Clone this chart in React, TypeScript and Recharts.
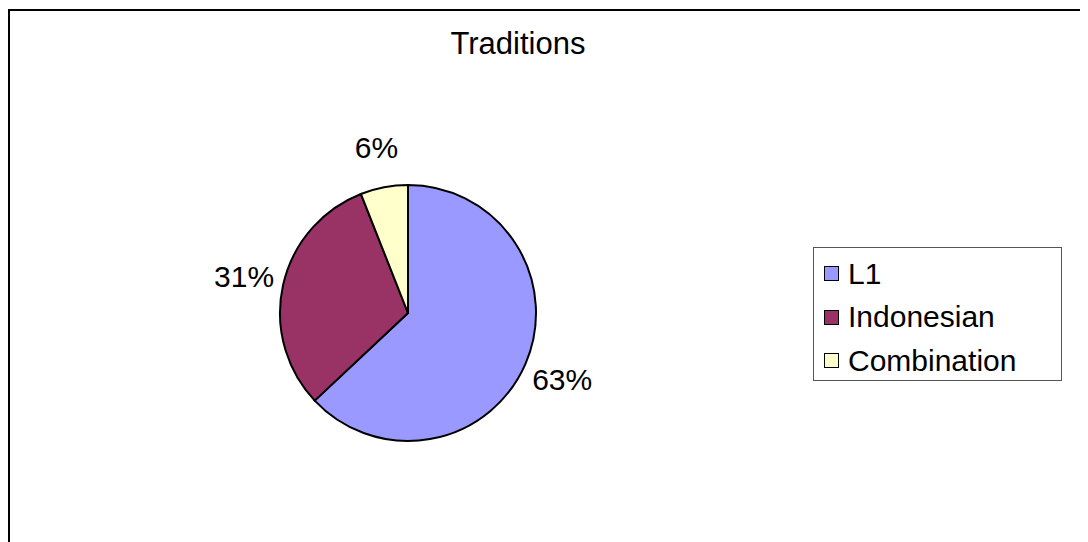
import { PieChart, Pie, Cell, Legend } from "recharts";

const categories = ["L1", "Indonesian", "Combination"];
const shares = [63, 31, 6];
const colors = ["#9999FF", "#993366", "#FFFFCC"];

const data = categories.map((name, i) => ({ name, value: shares[i] }));

const FONT = "'Liberation Sans', Arial, sans-serif";
const RAD = Math.PI / 180;

const renderLabel = (props: any) => {
  const { cx, cy, midAngle, outerRadius, percent } = props;
  const r = outerRadius + 40;
  const x = cx + r * Math.cos(-midAngle * RAD);
  const y = cy + r * Math.sin(-midAngle * RAD);
  return (
    <text
      x={x}
      y={y}
      textAnchor="middle"
      dominantBaseline="central"
      fill="#000"
      fontSize={30}
      fontFamily={FONT}
    >
      {`${Math.round(percent * 100)}%`}
    </text>
  );
};

const LegendBox = (props: any) => {
  const items = [...(props.payload || [])].sort(
    (a: any, b: any) => categories.indexOf(a.value) - categories.indexOf(b.value)
  );
  return (
    <div
      style={{
        width: 247,
        height: 128,
        border: "1px solid #555",
        background: "#fff",
        fontFamily: FONT,
        fontSize: 30,
        color: "#000",
        paddingTop: 4,
        boxSizing: "content-box",
      }}
    >
      {items.map((it: any) => (
        <div
          key={it.value}
          style={{ display: "flex", alignItems: "center", height: 43.5, paddingLeft: 10 }}
        >
          <span
            style={{
              display: "inline-block",
              width: 13,
              height: 13,
              border: "1px solid #000",
              background: it.color,
              marginRight: 9,
            }}
          />
          <span>{it.value}</span>
        </div>
      ))}
    </div>
  );
};

export default function App() {
  return (
    <div
      style={{
        position: "relative",
        width: 1100,
        height: 560,
        border: "2px solid #000",
        marginTop: 1,
        background: "#fff",
      }}
    >
      <div
        style={{
          position: "absolute",
          left: 0,
          width: 1016,
          top: 15,
          textAlign: "center",
          fontFamily: FONT,
          fontSize: 31,
          color: "#000",
        }}
      >
        Traditions
      </div>
      <PieChart width={1100} height={560} margin={{ top: 0, right: 0, bottom: 0, left: 0 }}>
        <Pie
          data={data}
          dataKey="value"
          nameKey="name"
          cx={398}
          cy={302}
          outerRadius={128}
          startAngle={90}
          endAngle={-270}
          stroke="#000"
          strokeWidth={2}
          label={renderLabel}
          labelLine={false}
          isAnimationActive={false}
        >
          {data.map((d, i) => (
            <Cell key={d.name} fill={colors[i]} />
          ))}
        </Pie>
        <Legend
          content={<LegendBox />}
          wrapperStyle={{ position: "absolute", left: 803, top: 236, width: 249 }}
        />
      </PieChart>
    </div>
  );
}
